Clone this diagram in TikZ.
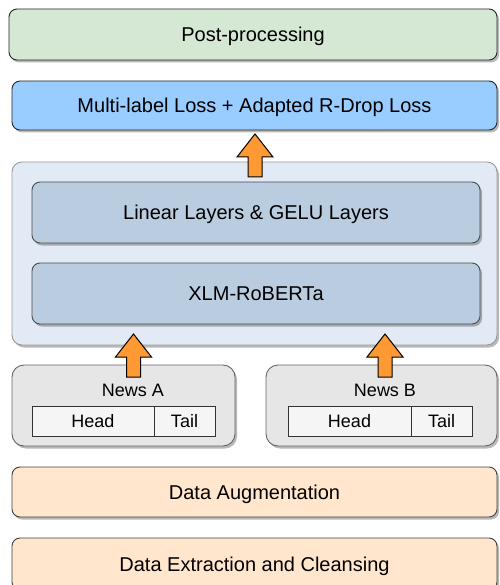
\documentclass[tikz,border=0pt]{standalone}
\usepackage{fontspec}
\setmainfont{Liberation Sans}
\usetikzlibrary{shadows}

\definecolor{postfill}{HTML}{D5E8D4}
\definecolor{lossfill}{HTML}{99CCFF}
\definecolor{contfill}{HTML}{E2EBF5}
\definecolor{layerfill}{HTML}{B9CCE0}
\definecolor{newsfill}{HTML}{E6E6E6}
\definecolor{cellfill}{HTML}{F5F5F5}
\definecolor{datafill}{HTML}{FFE6CC}
\definecolor{arrowfill}{HTML}{FF9933}

\tikzset{
  box/.style={draw=#1, rounded corners=8pt, line width=0.9pt, inner sep=0pt, outer sep=0pt,
    drop shadow={shadow xshift=2pt, shadow yshift=-2.5pt, opacity=0.28, fill=black},
    font=\fontsize{20}{24}\selectfont, text height=14.4pt, text depth=0pt},
  box/.default={black!85},
  cell/.style={draw=black!80, fill=cellfill, line width=0.9pt, inner sep=0pt, outer sep=0pt,
    font=\fontsize{18}{22}\selectfont, text height=13pt, text depth=0pt},
  lbl/.style={inner sep=0pt, font=\fontsize{18}{22}\selectfont, text height=13pt, text depth=0pt},
  uparrow/.pic={
    \filldraw[fill=arrowfill, draw=black, line width=1pt, line join=miter]
      (0,0) -- (18,23) -- (7,23) -- (7,43) -- (-7,43) -- (-7,23) -- (-18,23) -- cycle;
  }
}

\begin{document}
\begin{tikzpicture}[x=1pt, y=-1pt]
  \useasboundingbox (0,0) rectangle (499,585);
  \clip (0,0) rectangle (499,585);

  % top stages
  \node[box, fill=postfill, minimum width=488pt, minimum height=51pt] (post) at (253,34.5) {Post-processing};
  \node[box, fill=lossfill, minimum width=485pt, minimum height=49pt] (loss) at (254.5,105.5) {Multi-label Loss + Adapted R-Drop Loss};

  % model block
  \node[box=black!40, fill=contfill, rounded corners=10pt, minimum width=485pt, minimum height=183pt] (model) at (254.5,253.5) {};
  \node[box=black!70, fill=layerfill, minimum width=448pt, minimum height=61pt] (linear) at (256,212.5) {Linear Layers \& GELU Layers};
  \node[box=black!70, fill=layerfill, minimum width=448pt, minimum height=61pt] (xlmr) at (256,293.5) {XLM-RoBERTa};

  % news inputs
  \node[box=black!60, fill=newsfill, rounded corners=12pt, minimum width=223pt, minimum height=81pt] (newsA) at (123.5,405.5) {};
  \node[lbl] (newsAlbl) at (133,390) {News A};
  \node[cell, minimum width=122pt, minimum height=30pt] (headA) at (93,421) {Head};
  \node[cell, minimum width=61pt, minimum height=30pt] (tailA) at (184.5,421) {Tail};

  \node[box=black!60, fill=newsfill, rounded corners=12pt, minimum width=231pt, minimum height=81pt] (newsB) at (381.5,405.5) {};
  \node[lbl] (newsBlbl) at (385,390) {News B};
  \node[cell, minimum width=123pt, minimum height=30pt] (headB) at (349.5,421) {Head};
  \node[cell, minimum width=61pt, minimum height=30pt] (tailB) at (441.5,421) {Tail};

  % data preparation
  \node[box=black!75, fill=datafill, minimum width=485pt, minimum height=50pt] (aug) at (254.5,492) {Data Augmentation};
  \node[box=black!75, fill=datafill, minimum width=485pt, minimum height=52pt] (extract) at (254.5,564) {Data Extraction and Cleansing};

  % flow arrows
  \coordinate (upTip) at (255,134);
  \coordinate (aTip) at (133.5,334);
  \coordinate (bTip) at (385,334);
  \pic at (upTip) {uparrow};
  \pic at (aTip) {uparrow};
  \pic at (bTip) {uparrow};
\end{tikzpicture}
\end{document}
